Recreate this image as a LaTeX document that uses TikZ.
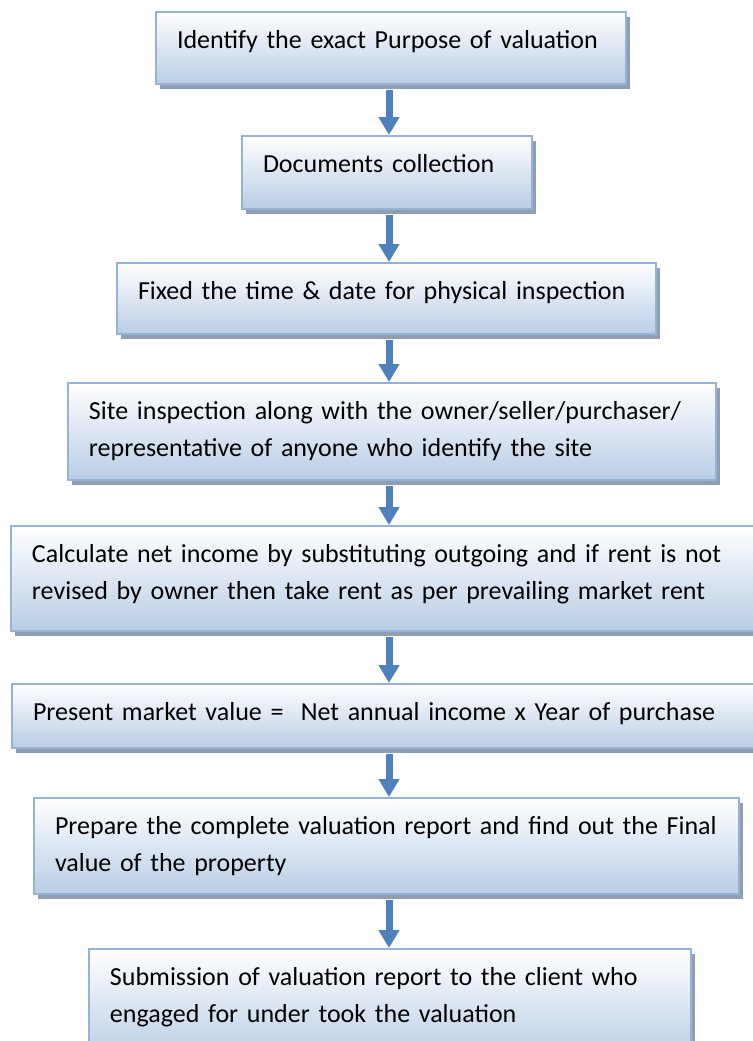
\documentclass[tikz,border=0pt]{standalone}
\usepackage{fontspec}
\setmainfont{Carlito}
\usetikzlibrary{arrows.meta,shadows}
\definecolor{boxline}{RGB}{149,179,215}
\definecolor{boxbottom}{RGB}{185,205,229}
\definecolor{boxshadow}{RGB}{143,158,178}
\definecolor{arrowblue}{RGB}{79,129,189}

\begin{document}
\begin{tikzpicture}[x=0.5pt, y=-0.5pt,
	stepbox/.style={draw=boxline, line width=1pt, top color=white, bottom color=boxbottom,
		drop shadow={shadow xshift=2pt, shadow yshift=-2.5pt, fill=boxshadow, opacity=1},
		anchor=north west, align=left, inner xsep=10.5pt, inner ysep=0pt, text height=18pt,
		font=\fontsize{13}{18.5}\selectfont},
	flow/.style={draw=arrowblue, line width=3.5pt, -{Triangle[width=10pt, length=9pt]}}]
	\useasboundingbox (0,0) rectangle (753,1041);
	\clip (0,0) rectangle (753,1041);

	% Define the steps with specific positions
	\node[stepbox, text width=214pt, text depth=18pt] (purpose) at (155, 11) {Identify the exact Purpose of valuation};
	\node[stepbox, text width=124pt, text depth=18.5pt] (documents) at (241, 135) {Documents collection};
	\node[stepbox, text width=248.5pt, text depth=17.5pt] (schedule) at (116, 262) {Fixed the time \& date for physical inspection};
	\node[stepbox, text width=303pt, text depth=30.5pt] (inspection) at (67, 382) {Site inspection along with the owner/seller/purchaser/\\representative of anyone who identify the site};
	\node[stepbox, text width=364pt, text depth=34.5pt] (income) at (10, 525) {Calculate net income by substituting outgoing and if rent is not\\revised by owner then take rent as per prevailing market rent};
	\node[stepbox, text width=364pt, text depth=14pt] (value) at (11, 683) {Present market value = \ Net annual income x Year of purchase};
	\node[stepbox, text width=331.5pt, text depth=30pt] (report) at (33, 797) {Prepare the complete valuation report and find out the Final\\value of the property};
	\node[stepbox, text width=280pt, text depth=37pt] (submission) at (88, 948) {Submission of valuation report to the client who\\engaged for under took the valuation};

	% Draw the arrows between the steps
	\coordinate (col) at (389, 0);
	\draw[flow] (purpose.south -| col) ++(0,5) -- (documents.north -| col);
	\draw[flow] (documents.south -| col) ++(0,5) -- (schedule.north -| col);
	\draw[flow] (schedule.south -| col) ++(0,5) -- (inspection.north -| col);
	\draw[flow] (inspection.south -| col) ++(0,5) -- (income.north -| col);
	\draw[flow] (income.south -| col) ++(0,5) -- (value.north -| col);
	\draw[flow] (value.south -| col) ++(0,5) -- (report.north -| col);
	\draw[flow] (report.south -| col) ++(0,5) -- (submission.north -| col);
\end{tikzpicture}
\end{document}
